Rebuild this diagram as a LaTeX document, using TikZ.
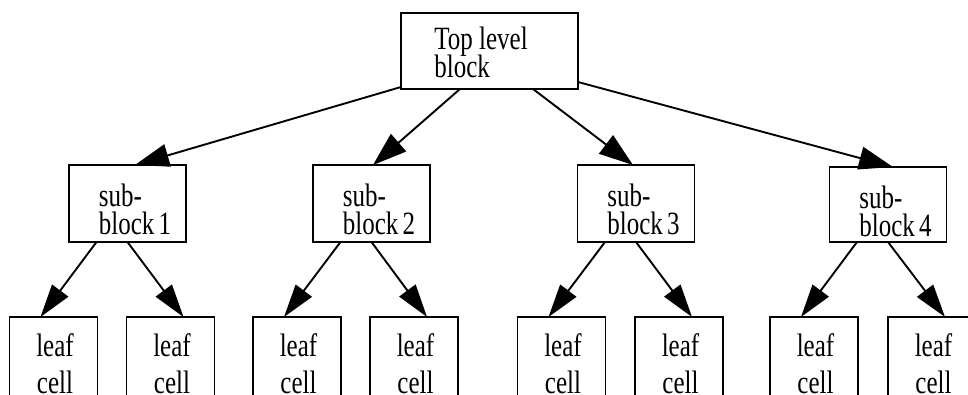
\documentclass[tikz,border=0pt]{standalone}
\usepackage{graphicx}
\usepackage{fontspec}
\setmainfont{Liberation Serif}
\usetikzlibrary{arrows.meta}

% two-line labels, set in a tall, narrow serif look
\newcommand\leftstack[3]{\scalebox{1}[1.3]{\vbox{\baselineskip=#1\lineskiplimit=-100pt\halign{##\hfil\cr#2\cr#3\cr}}}}
\newcommand\centerstack[3]{\scalebox{1}[1.3]{\vbox{\baselineskip=#1\lineskiplimit=-100pt\halign{\hfil##\hfil\cr#2\cr#3\cr}}}}

\tikzset{
  blockbox/.style={draw, line width=1.9pt, rectangle, inner sep=0pt, outer sep=0pt},
  subbox/.style={blockbox, minimum width=117pt, minimum height=77pt},
  leafbox/.style={blockbox, minimum width=88pt, minimum height=100pt},
  lbl/.style={inner sep=0pt, anchor=north, font=\fontsize{25pt}{25pt}\selectfont},
  bigarrow/.style={line width=1.9pt, -{Triangle[length=34pt,width=23pt]}},
  smallarrow/.style={line width=1.9pt, -{Triangle[length=33pt,width=20pt]}}
}

\begin{document}
\begin{tikzpicture}[x=1pt,y=1pt]
  \useasboundingbox (0,0) rectangle (968,394);
  \clip (0,0) rectangle (968,394);

  % top level
  \node[blockbox, minimum width=177pt, minimum height=76pt] (top) at (489.5,343) {};
  \node[lbl] (toptext) at ([xshift=-8.5pt,yshift=-14pt]top.north) {\leftstack{21.5pt}{Top level}{block}};

  % sub-blocks
  \node[subbox] (s1) at (127.5,190.5) {};
  \node[subbox] (s2) at (371.5,190.5) {};
  \node[subbox] (s3) at (636,190.5) {};
  \node[subbox, minimum height=75pt] (s4) at (888,189.5) {};
  \foreach \i in {1,2,3,4}{
    \node[lbl] (s\i text) at ([xshift=7.5pt,yshift=-19pt]s\i.north) {\leftstack{21.5pt}{sub-}{block\,\i}};
  }

  % leaf cells
  \foreach \i/\x in {1/53.5,2/170.5,3/297,4/414,5/561.5,6/679,7/814,8/932}{
    \node[leafbox] (l\i) at (\x,27) {};
    \node[lbl] (l\i text) at ([xshift=1.5pt,yshift=-16pt]l\i.north) {\centerstack{28.5pt}{leaf}{cell}};
  }

  % connectors from the top block
  \draw[bigarrow] ([yshift=2pt]top.south west) -- ([xshift=7.5pt]s1.north);
  \draw[bigarrow] ([xshift=-29.5pt]top.south) -- ([xshift=1.5pt]s2.north);
  \draw[bigarrow] ([xshift=43.5pt]top.south) -- ([xshift=-3pt]s3.north);
  \draw[bigarrow] ([yshift=7pt]top.south east) -- ([xshift=5pt]s4.north);

  % connectors from the sub-blocks
  \foreach \s/\a/\b in {1/1/2,2/3/4,3/5/6,4/7/8}{
    \draw[smallarrow] ([xshift=-31pt]s\s.south) -- ([xshift=-13pt]l\a.north);
    \draw[smallarrow] (s\s.south) -- ([xshift=13pt]l\b.north);
  }
\end{tikzpicture}
\end{document}
